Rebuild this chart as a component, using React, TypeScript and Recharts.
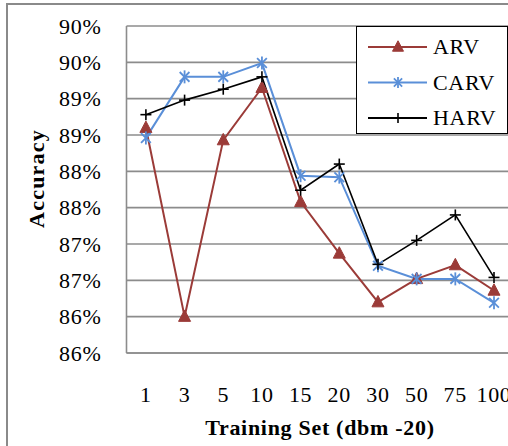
import React from 'react';
import { LineChart, Line, XAxis, YAxis, CartesianGrid, Label } from 'recharts';

const categories = ['1', '3', '5', '10', '15', '20', '30', '50', '75', '100'];
const arv = [88.6, 86.0, 88.43, 89.15, 87.58, 86.87, 86.2, 86.52, 86.71, 86.36];
const carv = [88.46, 89.3, 89.3, 89.49, 87.94, 87.92, 86.7, 86.52, 86.52, 86.19];
const harv = [88.78, 88.98, 89.13, 89.3, 87.74, 88.1, 86.72, 87.05, 87.4, 86.54];
const yTicks = [85.5, 86, 86.5, 87, 87.5, 88, 88.5, 89, 89.5, 90];

const seriesNames = ['ARV', 'CARV', 'HARV'];
const colors = ['#9B3B38', '#5A8FD8', '#000000'];

const data = categories.map((name, i) => ({ name, ARV: arv[i], CARV: carv[i], HARV: harv[i] }));

const FONT = '"Liberation Serif", "Times New Roman", serif';
const LS = '0.7px';

const Triangle = (props: any) => {
  const { cx, cy, size = 12 } = props;
  if (cx == null || cy == null) return null;
  const h = size * 0.95;
  return (
    <path
      d={`M${cx},${cy - h / 2 - 1} L${cx + size / 2},${cy + h / 2 - 1} L${cx - size / 2},${cy + h / 2 - 1} Z`}
      fill={colors[0]}
      stroke={colors[0]}
    />
  );
};

const Star = (props: any) => {
  const { cx, cy, size = 13 } = props;
  if (cx == null || cy == null) return null;
  const r = size / 2;
  const d = r * 0.75;
  return (
    <g stroke={colors[1]} strokeWidth={1.8}>
      <line x1={cx} y1={cy - r} x2={cx} y2={cy + r} />
      <line x1={cx - d} y1={cy - d} x2={cx + d} y2={cy + d} />
      <line x1={cx - d} y1={cy + d} x2={cx + d} y2={cy - d} />
    </g>
  );
};

const Plus = (props: any) => {
  const { cx, cy, size = 11 } = props;
  if (cx == null || cy == null) return null;
  const r = size / 2;
  return (
    <g stroke={colors[2]} strokeWidth={1.6}>
      <line x1={cx} y1={cy - r} x2={cx} y2={cy + r} />
      <line x1={cx - r} y1={cy} x2={cx + r} y2={cy} />
    </g>
  );
};

const markers = [Triangle, Star, Plus];

const LegendBox = () => (
  <div
    style={{
      position: 'absolute',
      left: 356,
      top: 26,
      width: 152,
      height: 108,
      border: '1.5px solid #000',
      background: '#fff',
      boxSizing: 'border-box',
    }}
  >
    <svg width={152} height={108} style={{ position: 'absolute', left: 0, top: 0 }}>
      {seriesNames.map((n, i) => {
        const y = 20 + i * 35.5;
        const M = markers[i];
        return (
          <g key={n}>
            <line x1={11} y1={y} x2={70} y2={y} stroke={colors[i]} strokeWidth={2} />
            <M cx={41} cy={y} size={i === 2 ? 10 : 11} />
            <text x={76} y={y} dy="0.34em" fontFamily={FONT} fontSize={22} fill="#000" style={{ letterSpacing: LS }}>
              {n}
            </text>
          </g>
        );
      })}
    </svg>
  </div>
);

const YLabel = (props: any) => {
  const { viewBox } = props;
  const cy = viewBox.y + viewBox.height / 2 - 11;
  return (
    <text
      x={36}
      y={cy}
      transform={`rotate(-90 36 ${cy})`}
      textAnchor="middle"
      dominantBaseline="central"
      fontFamily={FONT}
      fontSize={22}
      fontWeight="bold"
      fill="#000"
      style={{ letterSpacing: '1.2px' }}
    >
      Accuracy
    </text>
  );
};

export default function App() {
  return (
    <div style={{ position: 'absolute', left: 0, top: 0, width: 508, height: 446, overflow: 'hidden', background: '#fff' }}>
      <div
        style={{
          position: 'absolute',
          left: 6,
          top: 3,
          width: 540,
          height: 480,
          borderLeft: '2px solid #8a8a8a',
          borderTop: '2px solid #8a8a8a',
        }}
      />
      <div style={{ position: 'absolute', left: 0, top: 0 }}>
        <LineChart
          width={532}
          height={446}
          data={data}
          margin={{ top: 26, right: 18.6, left: 0, bottom: 0 }}
        >
          <CartesianGrid vertical={false} stroke="#8c8c8c" strokeWidth={1.6} />
          <XAxis
            dataKey="name"
            height={93}
            padding={{ left: 19.4, right: 19.4 }}
            tickLine={false}
            tickSize={0}
            tickMargin={33}
            axisLine={{ stroke: '#8c8c8c', strokeWidth: 1.6 }}
            tick={{ fontFamily: FONT, fontSize: 22, fill: '#000', style: { letterSpacing: LS } } as any}
            interval={0}
          >
            <Label
              value="Training Set (dbm -20)"
              position="insideBottom"
              offset={11}
              style={{ fontFamily: FONT, fontSize: 22, fontWeight: 'bold', fill: '#000', letterSpacing: LS }}
            />
          </XAxis>
          <YAxis
            width={126.5}
            domain={[85.5, 90]}
            ticks={yTicks}
            interval={0}
            tickFormatter={(v: number) => `${Math.round(v)}%`}
            tickLine={false}
            tickSize={0}
            tickMargin={25}
            axisLine={{ stroke: '#8c8c8c', strokeWidth: 1.6 }}
            tick={{ fontFamily: FONT, fontSize: 22, fill: '#000', style: { letterSpacing: LS } } as any}
          >
            <Label content={<YLabel />} />
          </YAxis>
          <Line
            type="linear"
            dataKey="ARV"
            stroke={colors[0]}
            strokeWidth={2}
            dot={<Triangle size={12} />}
            isAnimationActive={false}
          />
          <Line
            type="linear"
            dataKey="CARV"
            stroke={colors[1]}
            strokeWidth={2}
            dot={<Star size={13} />}
            isAnimationActive={false}
          />
          <Line
            type="linear"
            dataKey="HARV"
            stroke={colors[2]}
            strokeWidth={1.6}
            dot={<Plus size={11} />}
            isAnimationActive={false}
          />
        </LineChart>
      </div>
      <LegendBox />
    </div>
  );
}
